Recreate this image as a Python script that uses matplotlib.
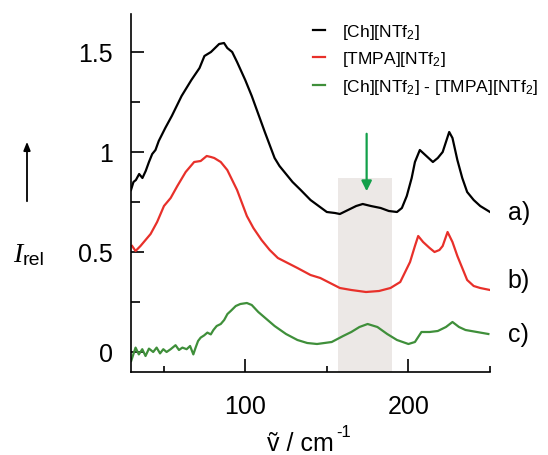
# Low-frequency Raman spectra of [Ch][NTf2], [TMPA][NTf2] and their difference.
import matplotlib.pyplot as plt
from matplotlib.patches import FancyArrowPatch
from matplotlib.ticker import MultipleLocator

plt.rcParams['font.family'] = ['Liberation Sans', 'DejaVu Sans']
plt.rcParams['mathtext.fontset'] = 'custom'
plt.rcParams['mathtext.rm'] = 'Liberation Sans'
plt.rcParams['mathtext.it'] = 'Liberation Sans:italic'

# Spectrum a) [Ch][NTf2]
ch_x = [30, 31.5, 33, 35, 37, 39, 41, 43, 45, 47, 51, 55, 61, 67, 72, 75, 79, 84, 87, 89,
        92, 95, 100, 104, 108, 112, 118, 121, 125, 129, 134, 140, 145, 150, 155, 158, 163,
        168, 172, 177, 183, 188, 193, 196, 199, 202, 204, 207, 211, 215, 218, 221, 223,
        225, 227, 230, 233, 236, 240, 244, 247, 250]
ch_y = [0.81, 0.85, 0.86, 0.89, 0.87, 0.905, 0.95, 0.99, 1.01, 1.055, 1.12, 1.18, 1.28,
        1.36, 1.42, 1.48, 1.50, 1.54, 1.545, 1.52, 1.50, 1.45, 1.36, 1.28, 1.19, 1.10, 0.97,
        0.93, 0.89, 0.85, 0.81, 0.76, 0.73, 0.70, 0.695, 0.69, 0.71, 0.73, 0.74, 0.73, 0.72,
        0.705, 0.70, 0.72, 0.78, 0.87, 0.95, 1.01, 0.98, 0.95, 0.97, 1.0, 1.05, 1.10, 1.07,
        0.96, 0.87, 0.80, 0.76, 0.73, 0.715, 0.70]

# Spectrum b) [TMPA][NTf2]
tmpa_x = [30.7, 32.8, 35.8, 38.9, 42, 46, 50.2, 54.3, 58.4, 63.5, 68.7, 72.7, 76.4, 79, 81,
          85, 89, 95, 101, 105, 110, 115, 120, 126, 132, 140, 146, 152, 158, 165, 174, 182,
          189, 195, 198, 201, 204, 206, 209, 213, 216, 219, 221, 224, 227, 230, 233, 236,
          240, 244, 250]
tmpa_y = [0.53, 0.505, 0.53, 0.56, 0.59, 0.65, 0.73, 0.77, 0.83, 0.90, 0.95, 0.955, 0.98,
          0.975, 0.97, 0.95, 0.91, 0.81, 0.68, 0.62, 0.56, 0.51, 0.47, 0.445, 0.42, 0.385,
          0.37, 0.345, 0.32, 0.31, 0.30, 0.305, 0.32, 0.35, 0.40, 0.45, 0.53, 0.58, 0.55,
          0.52, 0.50, 0.51, 0.53, 0.60, 0.55, 0.48, 0.42, 0.36, 0.33, 0.32, 0.31]

# Difference spectrum c)
diff_x = [30.1, 32.8, 34.8, 36.9, 38.9, 41.0, 43.6, 45.7, 47.8, 49.8, 51.8, 54.3, 57.3,
          59.4, 61.5, 64.1, 66.2, 68.2, 69.6, 71.1, 72.7, 74.8, 76.8, 78.9, 80.5, 82.5, 85.0,
          87.1, 89.1, 91.1, 94.2, 97, 101, 104, 108, 113, 118, 125, 132, 138, 144, 153, 160,
          165, 170, 175, 181, 187, 193, 200, 204, 208, 213, 218, 223, 227, 231, 235, 242, 249]
diff_y = [-0.045, 0.022, -0.012, 0.014, -0.02, 0.017, 0.0, 0.022, -0.007, 0.014, 0.0, 0.014,
          0.034, 0.01, 0.022, 0.014, 0.03, -0.012, 0.022, 0.055, 0.072, 0.083, 0.097, 0.088,
          0.11, 0.13, 0.14, 0.16, 0.19, 0.205, 0.23, 0.24, 0.245, 0.235, 0.20, 0.165, 0.13,
          0.09, 0.06, 0.045, 0.04, 0.05, 0.08, 0.10, 0.125, 0.14, 0.125, 0.09, 0.06, 0.04,
          0.05, 0.10, 0.10, 0.105, 0.125, 0.15, 0.125, 0.11, 0.10, 0.09]

labels = ['[Ch][NTf$_2$]', '[TMPA][NTf$_2$]', '[Ch][NTf$_2$] - [TMPA][NTf$_2$]']
curve_tags = ['a)', 'b)', 'c)']
tag_y = [0.70, 0.36, 0.09]

# highlighted band and arrow
band = (157, 190)
band_top = 0.87
arrow_x = 174.4
arrow_from = 1.105
arrow_to = 0.79

fig = plt.figure(figsize=(5.48, 4.56), dpi=100)
ax = fig.add_axes([131 / 548, 1 - 373 / 456, 359 / 548, 358 / 456])

ax.fill_between(band, -0.1, band_top, color='#ece8e6', lw=0, zorder=0)
ax.plot(ch_x, ch_y, color='black', lw=1.6, label=labels[0])
ax.plot(tmpa_x, tmpa_y, color='#e8302a', lw=1.6, label=labels[1])
ax.plot(diff_x, diff_y, color='#3f8f3a', lw=1.6, label=labels[2])

ax.annotate('', xy=(arrow_x, arrow_to), xytext=(arrow_x, arrow_from),
            arrowprops=dict(arrowstyle='-|>,head_length=0.6,head_width=0.3',
                            color='#12a04a', lw=1.6))

ax.set_xlim(30, 250)
ax.set_ylim(-0.1, 1.69)
ax.xaxis.set_major_locator(MultipleLocator(100))
ax.xaxis.set_minor_locator(MultipleLocator(50))
ax.yaxis.set_major_locator(MultipleLocator(0.5))
ax.yaxis.set_minor_locator(MultipleLocator(0.25))
ax.yaxis.set_major_formatter(lambda v, p: f'{v:g}')

ax.spines['top'].set_visible(False)
ax.spines['right'].set_visible(False)
for s in ('left', 'bottom'):
    ax.spines[s].set_linewidth(1.2)
ax.tick_params(axis='both', which='both', direction='in', width=1.2, labelsize=18)
ax.tick_params(axis='x', which='major', length=9.5, pad=16)
ax.tick_params(axis='x', which='minor', length=4)
ax.tick_params(axis='y', which='major', length=9.5, pad=13)
ax.tick_params(axis='y', which='minor', length=6.5)

# x axis label, with a plain hyphen in the exponent
fig.text(267 / 548, 1 - 451 / 456, '\u1e7d / cm', fontsize=18, ha='left', va='baseline')
fig.text(336 / 548, 1 - 437 / 456, '-1', fontsize=12, ha='left', va='baseline')

for t, y in zip(curve_tags, tag_y):
    ax.text(261, y, t, fontsize=18, ha='left', va='center', clip_on=False)

ax.legend(loc='upper left', bbox_to_anchor=(304 / 548, 1 - 14 / 456),
          bbox_transform=fig.transFigure, frameon=False, fontsize=12.5,
          handlelength=0.7, handletextpad=1.0, labelspacing=0.5, borderpad=0)

# y axis label: arrow plus I_rel
fig.patches.append(FancyArrowPatch(
    (27 / 548, 1 - 205 / 456), (27 / 548, 1 - 140 / 456), transform=fig.transFigure,
    arrowstyle='-|>,head_length=0.5,head_width=0.2', color='black', lw=1.3,
    mutation_scale=10))
fig.text(22 / 548, 1 - 262 / 456, 'I', family='Liberation Serif', style='italic',
         fontsize=20, ha='right', va='baseline')
fig.text(23 / 548, 1 - 265 / 456, 'rel', fontsize=14, ha='left', va='baseline')

plt.savefig('out.png', dpi=100)
